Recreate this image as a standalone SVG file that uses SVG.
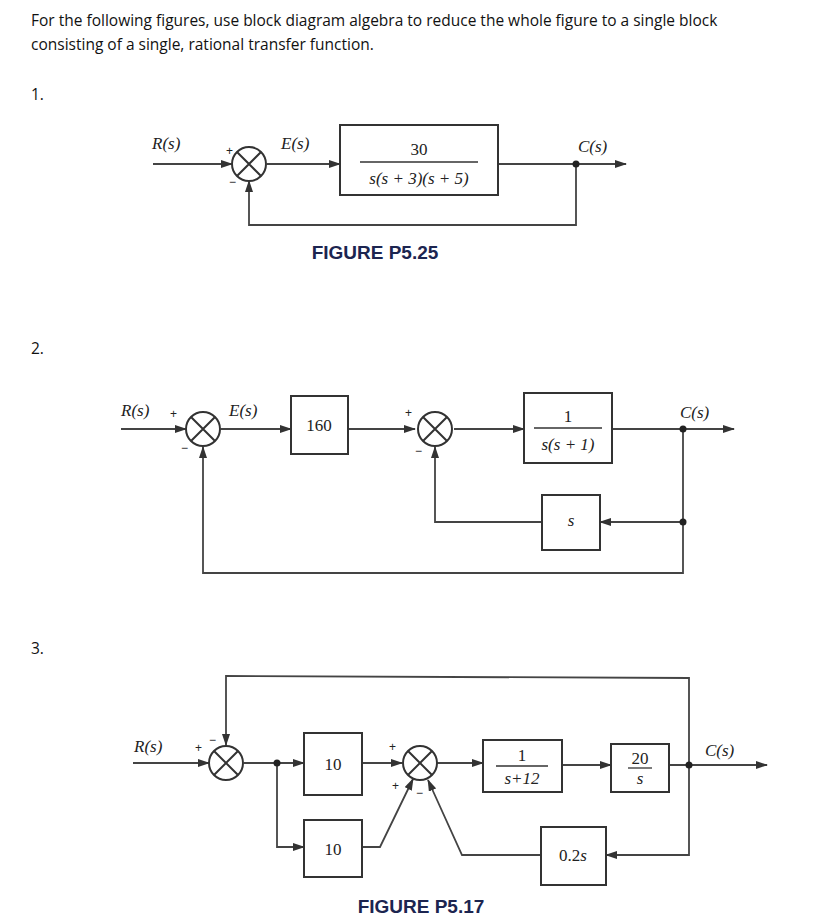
<svg xmlns="http://www.w3.org/2000/svg" width="829" height="924" viewBox="0 0 829 924">
<style>
.hd{font-family:"Open Sans","Liberation Sans",sans-serif;font-size:15.5px;fill:#111}
.m{font-family:"Liberation Serif",serif;font-size:17px;fill:#222}
.mi{font-family:"Liberation Serif",serif;font-size:17px;font-style:italic;fill:#222}
.sg{font-family:"Liberation Sans",sans-serif;font-size:12px;fill:#222}
.fg{font-family:"Liberation Sans",sans-serif;font-size:19px;font-weight:bold;fill:#1c2550}
.bx{fill:#fff;stroke:#333;stroke-width:2}
.ln{fill:none;stroke:#444;stroke-width:1.8}
.ar{fill:none;stroke:#444;stroke-width:1.8;marker-end:url(#a)}
.dot{fill:#222}
</style>
<defs>
<marker id="a" markerWidth="12" markerHeight="8" refX="11" refY="4" orient="auto" markerUnits="userSpaceOnUse"><path d="M0,0 L12,4 L0,8 Z" fill="#333"/></marker>
<g id="sum"><circle r="17" fill="#fff" stroke="#333" stroke-width="2"/><path d="M-12,-12 L12,12 M12,-12 L-12,12" stroke="#333" stroke-width="2"/></g>
</defs>
<rect width="829" height="924" fill="#fff"/>
<text class="hd" x="31" y="26">For the following figures, use block diagram algebra to reduce the whole figure to a single block</text>
<text class="hd" x="31" y="50">consisting of a single, rational transfer function.</text>
<text class="hd" x="31" y="100">1.</text>
<text class="hd" x="31" y="354">2.</text>
<text class="hd" x="31" y="654">3.</text>

<!-- Figure 1 -->
<g id="connectors1">
<path class="ar" d="M153,164 H232"/>
<path class="ar" d="M267,164 H340"/>
<path class="ar" d="M498,164 H626"/>
<path class="ar" d="M576,164 V225 H249 V181"/>
</g>
<g id="f1sum"><use href="#sum" x="249" y="164"/><text class="sg" x="226" y="155">+</text><text class="sg" x="229" y="186">−</text></g>
<g id="f1G"><rect class="bx" x="340" y="125" width="158" height="70"/><text class="m" x="419" y="155" text-anchor="middle">30</text><path d="M360,162 H478" stroke="#333" stroke-width="1.3"/><text class="mi" x="419" y="184" text-anchor="middle">s(s + 3)(s + 5)</text></g>
<circle class="dot" cx="576" cy="164" r="3.5"/>
<text class="mi" x="152" y="149">R(s)</text>
<text class="mi" x="281" y="149">E(s)</text>
<text class="mi" x="578" y="152">C(s)</text>
<text class="fg" x="375" y="259" text-anchor="middle">FIGURE P5.25</text>

<!-- Figure 2 -->
<g id="connectors2">
<path class="ar" d="M121,429 H186"/>
<path class="ar" d="M221,429 H291"/>
<path class="ar" d="M348,429 H415"/>
<path class="ar" d="M454,429 H524"/>
<path class="ar" d="M612,429 H734"/>
<path class="ar" d="M683,429 V522 H600"/>
<path class="ar" d="M542,522 H435 V447"/>
<path class="ar" d="M683,522 V573 H203 V447"/>
</g>
<g id="f2sum1"><use href="#sum" x="203" y="429"/><text class="sg" x="170" y="418">+</text><text class="sg" x="181" y="452">−</text></g>
<g id="f2sum2"><use href="#sum" x="435" y="429"/><text class="sg" x="405" y="417">+</text><text class="sg" x="415" y="455">−</text></g>
<g id="f2K"><rect class="bx" x="291" y="396" width="57" height="58"/><text class="m" x="319" y="431" text-anchor="middle">160</text></g>
<g id="f2G"><rect class="bx" x="524" y="393" width="88" height="70"/><text class="m" x="568" y="422" text-anchor="middle">1</text><path d="M534,428 H602" stroke="#333" stroke-width="1.3"/><text class="mi" x="568" y="450" text-anchor="middle">s(s + 1)</text></g>
<g id="f2H"><rect class="bx" x="542" y="495" width="58" height="55"/><text class="mi" x="571" y="526" text-anchor="middle">s</text></g>
<circle class="dot" cx="683" cy="429" r="3.5"/>
<circle class="dot" cx="683" cy="522" r="3.5"/>
<text class="mi" x="121" y="416">R(s)</text>
<text class="mi" x="229" y="416">E(s)</text>
<text class="mi" x="680" y="418">C(s)</text>

<!-- Figure 3 -->
<g id="connectors3">
<path class="ar" d="M133,763 H209"/>
<path class="ar" d="M244,763 H304"/>
<path class="ar" d="M362,763 H402"/>
<path class="ar" d="M437,763 H483"/>
<path class="ar" d="M562,765 H611"/>
<path class="ar" d="M669,765 H767"/>
<path class="ar" d="M689,765 V678 L226,676 V745"/>
<path class="ar" d="M277,763 V847 H304"/>
<path class="ar" d="M362,847 H380 L413,779"/>
<path class="ar" d="M689,765 V855 H606"/>
<path class="ar" d="M541,855 H462 L428,780"/>
</g>
<g id="f3sum1"><use href="#sum" x="226" y="763"/><text class="sg" x="195" y="752">+</text><text class="sg" x="209" y="744">−</text></g>
<g id="f3sum2"><use href="#sum" x="420" y="763"/><text class="sg" x="389" y="751">+</text><text class="sg" x="392" y="790">+</text><text class="sg" x="416" y="797">−</text></g>
<g id="f3K1"><rect class="bx" x="304" y="733" width="58" height="62"/><text class="m" x="333" y="770" text-anchor="middle">10</text></g>
<g id="f3K2"><rect class="bx" x="304" y="820" width="58" height="57"/><text class="m" x="333" y="855" text-anchor="middle">10</text></g>
<g id="f3G1"><rect class="bx" x="483" y="740" width="79" height="52"/><text class="m" x="522" y="761" text-anchor="middle">1</text><path d="M496,766 H548" stroke="#333" stroke-width="1.3"/><text class="mi" x="522" y="784" text-anchor="middle">s+12</text></g>
<g id="f3G2"><rect class="bx" x="611" y="744" width="58" height="48"/><text class="m" x="640" y="764" text-anchor="middle">20</text><path d="M628,768 H652" stroke="#333" stroke-width="1.3"/><text class="mi" x="640" y="784" text-anchor="middle">s</text></g>
<g id="f3H"><rect class="bx" x="541" y="827" width="65" height="58"/><text class="m" x="573" y="861" text-anchor="middle">0.2<tspan font-style="italic">s</tspan></text></g>
<circle class="dot" cx="277" cy="763" r="3.5"/>
<circle class="dot" cx="689" cy="765" r="3.5"/>
<text class="mi" x="134" y="752">R(s)</text>
<text class="mi" x="705" y="756">C(s)</text>
<text class="fg" x="421" y="913" text-anchor="middle">FIGURE P5.17</text>
</svg>
